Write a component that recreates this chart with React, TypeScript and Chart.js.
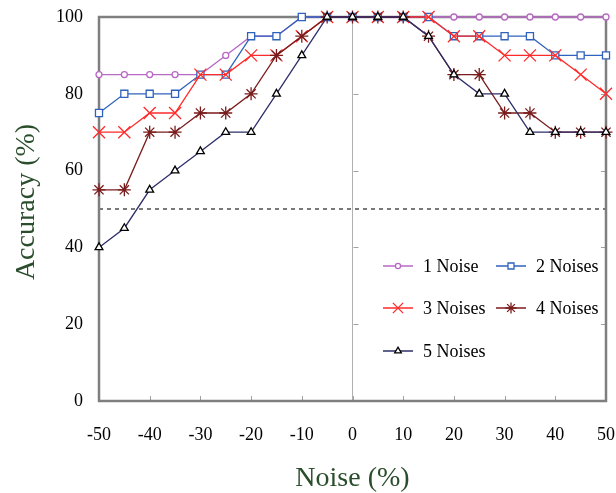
import React, { useEffect, useRef } from "react";
import { Chart, registerables } from "chart.js";
import { drawPoint } from "chart.js/helpers";

Chart.register(...registerables);

const noiseLevels = [-50, -45, -40, -35, -30, -25, -20, -15, -10, -5, 0, 5, 10, 15, 20, 25, 30, 35, 40, 45, 50];
const noise1 = [85, 85, 85, 85, 85, 90, 95, 95, 100, 100, 100, 100, 100, 100, 100, 100, 100, 100, 100, 100, 100];
const noise2 = [75, 80, 80, 80, 85, 85, 95, 95, 100, 100, 100, 100, 100, 100, 95, 95, 95, 95, 90, 90, 90];
const noise3 = [70, 70, 75, 75, 85, 85, 90, 90, 95, 100, 100, 100, 100, 100, 95, 95, 90, 90, 90, 85, 80];
const noise4 = [55, 55, 70, 70, 75, 75, 80, 90, 95, 100, 100, 100, 100, 95, 85, 85, 75, 75, 70, 70, 70];
const noise5 = [40, 45, 55, 60, 65, 70, 70, 80, 90, 100, 100, 100, 100, 95, 85, 80, 80, 70, 70, 70, 70];
const seriesLabels = ["1 Noise", "2 Noises", "3 Noises", "4 Noises", "5 Noises"];
const threshold = 50;
const xTickValues = [-50, -40, -30, -20, -10, 0, 10, 20, 30, 40, 50];
const yTickValues = [0, 20, 40, 60, 80, 100];
const yTitle = "Accuracy (%)";
const xTitle = "Noise (%)";

const FONT = "'Liberation Serif', 'Times New Roman', serif";
const GREEN = "#2a4d2c";

const styles = [
  { color: "#b868c4", point: "circle", radius: 3, fill: "#ffffff", pointBorder: "#b868c4" },
  { color: "#2f62bd", point: "rect", radius: 5, fill: "#ffffff", pointBorder: "#2f62bd" },
  { color: "#ff2a2a", point: "crossRot", radius: 8.5, fill: "#ffffff", pointBorder: "#ff2a2a" },
  { color: "#7a1c1c", point: "star", radius: 6.5, fill: "#ffffff", pointBorder: "#7a1c1c" },
  { color: "#2e2e6a", point: "triangle", radius: 4.5, fill: "#ffffff", pointBorder: "#000000" },
];

const extrasPlugin = {
  id: "extras",
  beforeDatasetsDraw(chart: any) {
    const { ctx, chartArea: a, scales } = chart;
    const x = scales.x, y = scales.y;
    ctx.save();
    ctx.strokeStyle = "#7a7a7a";
    ctx.lineWidth = 2;
    ctx.setLineDash([4, 4]);
    const ty = y.getPixelForValue(threshold);
    ctx.beginPath();
    ctx.moveTo(a.left, ty);
    ctx.lineTo(a.right, ty);
    ctx.stroke();
    ctx.setLineDash([]);
    ctx.strokeStyle = "#a0a0a0";
    ctx.lineWidth = 1;
    ctx.beginPath();
    xTickValues.forEach((v) => {
      if (v === -50 || v === 50) return;
      const px = Math.round(x.getPixelForValue(v)) + 0.5;
      ctx.moveTo(px, a.bottom);
      ctx.lineTo(px, a.bottom - 5);
    });
    const cx = Math.round(x.getPixelForValue(0)) + 0.5;
    yTickValues.forEach((v) => {
      if (v === 0 || v === 100) return;
      const py = Math.round(y.getPixelForValue(v)) + 0.5;
      ctx.moveTo(a.right, py);
      ctx.lineTo(a.right - 5, py);
      ctx.moveTo(cx, py);
      ctx.lineTo(cx + 5, py);
    });
    ctx.stroke();
    ctx.strokeStyle = "#7f7f7f";
    ctx.lineWidth = 2.5;
    ctx.strokeRect(a.left, a.top, a.right - a.left, a.bottom - a.top);
    // y axis title
    ctx.translate(27, (a.top + a.bottom) / 2 - 7);
    ctx.rotate(-Math.PI / 2);
    ctx.font = `28px ${FONT}`;
    ctx.fillStyle = GREEN;
    ctx.textAlign = "center";
    ctx.textBaseline = "middle";
    ctx.fillText(yTitle, 0, 0);
    ctx.restore();
  },
  afterDatasetsDraw(chart: any) {
    const { ctx } = chart;
    ctx.save();
    const cols = [383, 496];
    const rows = [266, 308, 351];
    ctx.font = `18px ${FONT}`;
    ctx.textBaseline = "middle";
    ctx.textAlign = "left";
    seriesLabels.forEach((label, i) => {
      const s = styles[i];
      const lx = cols[i % 2];
      const ly = rows[Math.floor(i / 2)];
      ctx.strokeStyle = s.color;
      ctx.lineWidth = 1.5;
      ctx.beginPath();
      ctx.moveTo(lx, ly);
      ctx.lineTo(lx + 30, ly);
      ctx.stroke();
      ctx.fillStyle = s.fill;
      ctx.strokeStyle = s.pointBorder;
      ctx.lineWidth = 1.3;
      drawPoint(ctx, { pointStyle: s.point, radius: s.radius * 0.85, rotation: 0, borderWidth: 1.3 } as any, lx + 15, ly);
      ctx.fillStyle = "#000000";
      ctx.fillText(label, lx + 40, ly + 1);
    });
    ctx.restore();
  },
};

export default function App() {
  const canvasRef = useRef<HTMLCanvasElement | null>(null);

  useEffect(() => {
    const canvas = canvasRef.current;
    if (!canvas) return;
    const all = [noise1, noise2, noise3, noise4, noise5];
    const datasets = all.map((vals, i) => ({
      label: seriesLabels[i],
      data: noiseLevels.map((n, j) => ({ x: n, y: vals[j] })),
      borderColor: styles[i].color,
      borderWidth: 1.3,
      pointStyle: styles[i].point,
      pointRadius: styles[i].radius,
      pointBackgroundColor: styles[i].fill,
      pointBorderColor: styles[i].pointBorder,
      pointBorderWidth: 1.3,
      fill: false,
      tension: 0,
      clip: false,
      order: 4 - i,
    }));

    const chart = new Chart(canvas, {
      type: "line",
      data: { datasets } as any,
      plugins: [extrasPlugin],
      options: {
        animation: false,
        responsive: false,
        devicePixelRatio: 1,
        layout: { padding: { top: 17, right: 10, left: 0, bottom: 0 } },
        plugins: { legend: { display: false }, tooltip: { enabled: false } },
        scales: {
          x: {
            type: "linear",
            min: -50,
            max: 50,
            afterBuildTicks: (s: any) => {
              s.ticks = xTickValues.map((v) => ({ value: v }));
            },
            afterFit: (s: any) => {
              s.height = 92;
              s.paddingLeft = 0;
              s.paddingRight = 0;
            },
            border: { display: false },
            grid: {
              drawTicks: false,
              color: (c: any) => (c.tick && c.tick.value === 0 ? "#b0b0b0" : "rgba(0,0,0,0)"),
              lineWidth: 1,
            },
            ticks: {
              padding: 23,
              color: "#000000",
              font: { family: FONT, size: 18 },
              maxRotation: 0,
              autoSkip: false,
            },
            title: {
              display: true,
              text: xTitle,
              color: GREEN,
              font: { family: FONT, size: 28, lineHeight: 1 },
              padding: { top: 0, bottom: 0 },
            },
          },
          y: {
            type: "linear",
            min: 0,
            max: 100,
            afterBuildTicks: (s: any) => {
              s.ticks = yTickValues.map((v) => ({ value: v }));
            },
            afterFit: (s: any) => {
              s.width = 99;
              s.paddingTop = 0;
              s.paddingBottom = 0;
            },
            border: { display: false },
            grid: { display: false, drawTicks: false },
            ticks: {
              padding: 16,
              color: "#000000",
              font: { family: FONT, size: 18 },
              autoSkip: false,
            },
            title: { display: false },
          },
        },
      } as any,
    });
    return () => chart.destroy();
  }, []);

  return (
    <div style={{ position: "fixed", left: 0, top: 0, width: 616, height: 493, background: "#ffffff" }}>
      <canvas ref={canvasRef} width={616} height={493} style={{ display: "block", width: 616, height: 493 }} />
    </div>
  );
}
